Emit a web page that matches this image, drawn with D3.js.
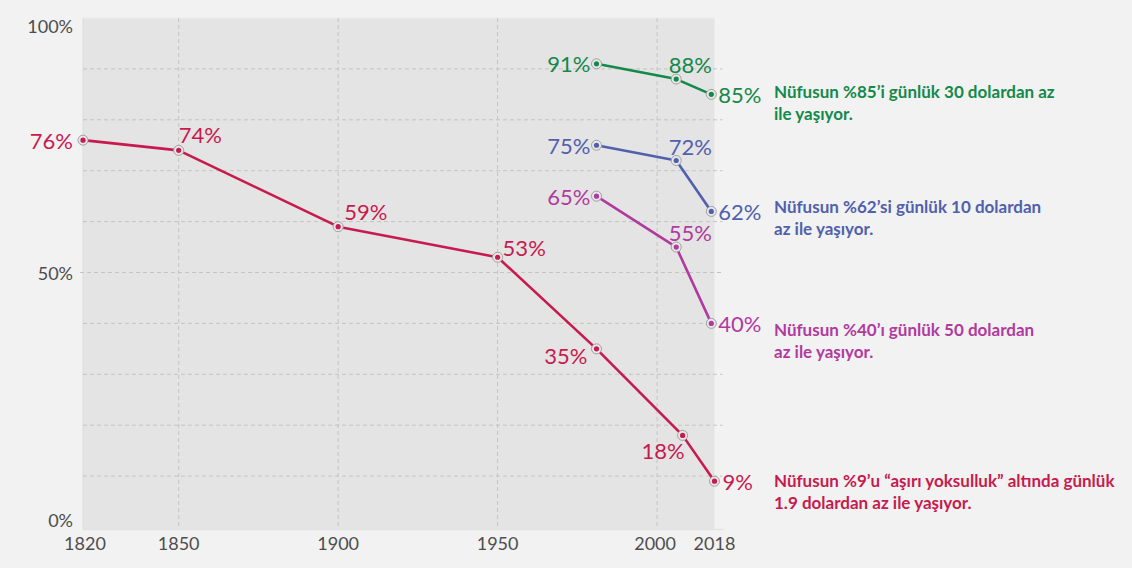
<!DOCTYPE html>
<html>
<head>
<meta charset="utf-8">
<script src="https://cdn.jsdelivr.net/npm/d3@7"></script>
<style>
  body { margin: 0; background: #f2f2f2; }
  svg { display: block; font-family: Lato, "Open Sans", sans-serif; }
</style>
</head>
<body>
<svg id="chart" width="1132" height="568"></svg>
<script>
// values
var redYears = [1820, 1850, 1900, 1950, 1981, 2008, 2018];
var redValues = [76, 74, 59, 53, 35, 18, 9];
var upperYears = [1981, 2006, 2017];
var greenValues = [91, 88, 85];
var blueValues = [75, 72, 62];
var magentaValues = [65, 55, 40];

var xTicks = [1820, 1850, 1900, 1950, 2000, 2018];
var yTicks = [0, 50, 100];
var gridValues = [10, 20, 30, 40, 50, 60, 70, 80, 90];

var greenNote = ["Nüfusun %85’i günlük 30 dolardan az", "ile yaşıyor."];
var blueNote = ["Nüfusun %62’si günlük 10 dolardan", "az ile yaşıyor."];
var magentaNote = ["Nüfusun %40’ı günlük 50 dolardan", "az ile yaşıyor."];
var redNote = ["Nüfusun %9’u “aşırı yoksulluk” altında günlük", "1.9 dolardan az ile yaşıyor."];

// label placement per point: [anchor, dx, dy, baseline]
var redPlace = [["end", -10, 0, "central"], ["start", 0, -7, "auto"], ["start", 6, -7, "auto"],
                ["start", 5, -1, "auto"], ["end", -9, 15, "auto"], ["end", 2, 24, "auto"], ["start", 8, 0, "central"]];
var upperPlace = [["end", -6, 0, "central"], ["middle", 14, -6, "auto"], ["start", 7, 0, "central"]];

var svg = d3.select("#chart");

var x = d3.scaleLinear().domain([1820, 2018]).range([83, 714.5]);
var y = d3.scaleLinear().domain([0, 100]).range([527, 18]);

// plot background
svg.append("rect")
    .attr("x", x(1820)).attr("y", y(100))
    .attr("width", x(2018) - x(1820)).attr("height", 529 - y(100))
    .attr("fill", "#e4e4e4");

svg.append("line")
    .attr("x1", x(1820)).attr("x2", x(2018))
    .attr("y1", y(100)).attr("y2", y(100))
    .attr("stroke", "#ececec").attr("stroke-width", 1.5);
svg.append("line")
    .attr("x1", x(1820)).attr("x2", x(1820))
    .attr("y1", y(100)).attr("y2", 529)
    .attr("stroke", "#dcdcdc");
svg.append("line")
    .attr("x1", x(1820)).attr("x2", x(2018) + 9)
    .attr("y1", 529.5).attr("y2", 529.5)
    .attr("stroke", "#e2e2e2").attr("stroke-width", 1.5);

// grid
svg.append("g").selectAll("line")
    .data(gridValues)
    .enter().append("line")
    .attr("x1", function (d) { return d == 50 ? x(1820) - 3 : x(1820); })
    .attr("x2", x(2018) + 8)
    .attr("y1", function (d) { return y(d); })
    .attr("y2", function (d) { return y(d); })
    .attr("stroke", "#c4c4c4")
    .attr("stroke-dasharray", "4,3");

svg.append("g").selectAll("line")
    .data([1850, 1900, 1950, 2000])
    .enter().append("line")
    .attr("x1", function (d) { return x(d); })
    .attr("x2", function (d) { return x(d); })
    .attr("y1", y(100)).attr("y2", 529)
    .attr("stroke", "#c4c4c4")
    .attr("stroke-dasharray", "4,3");

// axes text
svg.append("g").selectAll("text")
    .data(yTicks)
    .enter().append("text")
    .attr("x", 73)
    .attr("y", function (d) { return d == 100 ? y(d) + 15 : d == 0 ? y(d) : y(d) + 7; })
    .attr("text-anchor", "end")
    .attr("fill", "#4d4d4d")
    .style("font-size", "18px")
    .text(function (d) { return d + "%"; });

svg.append("g").selectAll("text")
    .data(xTicks)
    .enter().append("text")
    .attr("x", function (d) { return x(d) + (d == 1820 ? 2 : d == 2000 ? -2 : 0); })
    .attr("y", 550)
    .attr("text-anchor", "middle")
    .attr("fill", "#4d4d4d")
    .style("font-size", "18px")
    .text(function (d) { return d; });

var line = d3.line()
    .x(function (d) { return x(d[0]); })
    .y(function (d) { return y(d[1]); });

function drawSeries(years, values, color, place) {
    var pts = d3.zip(years, values);
    var g = svg.append("g");
    g.append("path")
        .datum(pts)
        .attr("d", line)
        .attr("fill", "none")
        .attr("stroke", color)
        .attr("stroke-width", 2.6)
        .attr("stroke-linejoin", "round");

    g.selectAll("circle.ring")
        .data(pts)
        .enter().append("circle")
        .attr("class", "ring")
        .attr("cx", function (d) { return x(d[0]); })
        .attr("cy", function (d) { return y(d[1]); })
        .attr("r", 5)
        .attr("fill", "#e8e8e8")
        .attr("stroke", "#a0a0a0")
        .attr("stroke-width", 1);

    g.selectAll("circle.dot")
        .data(pts)
        .enter().append("circle")
        .attr("class", "dot")
        .attr("cx", function (d) { return x(d[0]); })
        .attr("cy", function (d) { return y(d[1]); })
        .attr("r", 2.6)
        .attr("fill", color);

    g.selectAll("text")
        .data(pts)
        .enter().append("text")
        .attr("x", function (d, i) { return x(d[0]) + place[i][1]; })
        .attr("y", function (d, i) { return y(d[1]) + place[i][2]; })
        .attr("text-anchor", function (d, i) { return place[i][0]; })
        .attr("dominant-baseline", function (d, i) { return place[i][3]; })
        .attr("fill", color)
        .style("font-size", "22px")
        .text(function (d) { return d[1] + "%"; });
}

var red = "#c71a4e", green = "#13894a", blue = "#5060ad", magenta = "#b03a9f";

drawSeries(redYears, redValues, red, redPlace);
drawSeries(upperYears, greenValues, green, upperPlace);
drawSeries(upperYears, blueValues, blue, upperPlace);
drawSeries(upperYears, magentaValues, magenta, upperPlace);

// notes on the right
function note(lines, color, baseline) {
    svg.append("text")
        .attr("x", 774)
        .attr("y", baseline)
        .attr("fill", color)
        .style("font-size", "17px")
        .style("font-weight", 700)
        .selectAll("tspan")
        .data(lines)
        .enter().append("tspan")
        .attr("x", 774)
        .attr("dy", function (d, i) { return i == 0 ? 0 : 22; })
        .text(function (d) { return d; });
}

note(greenNote, green, 98);
note(blueNote, blue, 213);
note(magentaNote, magenta, 336);
note(redNote, red, 487);
</script>
</body>
</html>
